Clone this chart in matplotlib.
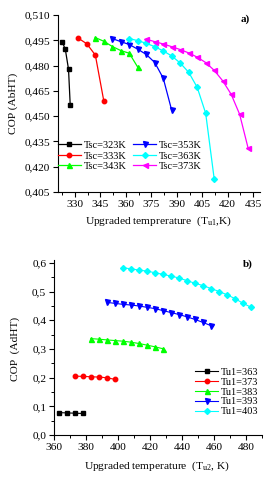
import matplotlib
matplotlib.use("Agg")
import matplotlib.pyplot as plt
from matplotlib.ticker import MultipleLocator, FuncFormatter

plt.rcParams['font.family'] = ['Liberation Serif', 'DejaVu Serif']
plt.rcParams['mathtext.fontset'] = 'custom'
plt.rcParams['mathtext.rm'] = 'Liberation Serif'
plt.rcParams['mathtext.it'] = 'Liberation Serif:italic'

# ---------------- Panel a data ----------------
a_labels = ["Tsc=323K", "Tsc=333K", "Tsc=343K", "Tsc=353K", "Tsc=363K", "Tsc=373K"]
a_x323 = [322.4, 324.3, 326.2, 327.2]
a_y323 = [0.4942, 0.4897, 0.4778, 0.4565]
a_x333 = [332, 337, 342, 347]
a_y333 = [0.4962, 0.4929, 0.4862, 0.4589]
a_x343 = [342, 347, 352, 357, 362, 367]
a_y343 = [0.4966, 0.4944, 0.4913, 0.4889, 0.4873, 0.4790]
a_x353 = [352, 357, 362, 367, 372, 377, 382, 387]
a_y353 = [0.4960, 0.4942, 0.4925, 0.4897, 0.4866, 0.4818, 0.4725, 0.4534]
a_x363 = [362, 367, 372, 377, 382, 387, 392, 397, 402, 407, 412]
a_y363 = [0.4960, 0.4948, 0.4932, 0.4912, 0.4887, 0.4857, 0.4815, 0.4760, 0.4671, 0.4517, 0.4129]
a_x373 = [372, 377, 382, 387, 392, 397, 402, 407, 412, 417, 422, 427, 432]
a_y373 = [0.4956, 0.4942, 0.4928, 0.4912, 0.4895, 0.4875, 0.4850, 0.4818, 0.4772, 0.4710, 0.4630, 0.4511, 0.4310]

# ---------------- Panel b data ----------------
b_labels = ["Tu1=363", "Tu1=373", "Tu1=383", "Tu1=393", "Tu1=403"]
b_x363 = [363, 368, 373, 378]
b_y363 = [0.078, 0.077, 0.076, 0.075]
b_x373 = [373, 378, 383, 388, 393, 398]
b_y373 = [0.2053, 0.2042, 0.2031, 0.2019, 0.1996, 0.1939]
b_x383 = [383, 388, 393, 398, 403, 408, 413, 418, 423, 428]
b_y383 = [0.336, 0.334, 0.3315, 0.3292, 0.327, 0.3235, 0.319, 0.3132, 0.3074, 0.3006]
b_x393 = [393, 398, 403, 408, 413, 418, 423, 428, 433, 438, 443, 448, 453, 458]
b_y393 = [0.4623, 0.4589, 0.4554, 0.4531, 0.4497, 0.4451, 0.4405, 0.4336, 0.4268,
          0.4199, 0.4118, 0.4027, 0.3923, 0.3809]
b_x403 = [403, 408, 413, 418, 423, 428, 433, 438, 443, 448, 453, 458, 463, 468, 473, 478, 483]
b_y403 = [0.5828, 0.5794, 0.5748, 0.5713, 0.5656, 0.5598, 0.5541, 0.5472, 0.5380,
          0.5288, 0.5208, 0.5105, 0.5002, 0.4887, 0.4750, 0.4589, 0.4451]

colors = ['#000000', '#ff0000', '#00ff00', '#0000ff', '#00ffff', '#ff00ff']
markers_a = ['s', 'o', '^', 'v', 'D', '<']
msizes = [3.0, 3.2, 3.6, 3.6, 3.0, 3.6]

W, H = 275, 480
fig = plt.figure(figsize=(W / 100, H / 100), dpi=100)

def comma_fmt(dec):
    return FuncFormatter(lambda v, p: (f"{v:.{dec}f}").replace('.', ','))

def style_axes(ax):
    for s in ['top', 'right']:
        ax.spines[s].set_visible(False)
    for s in ['left', 'bottom']:
        ax.spines[s].set_linewidth(0.8)
    ax.tick_params(which='major', direction='out', length=3.5, width=0.8, labelsize=8.2, pad=2)
    ax.tick_params(which='minor', direction='out', length=2, width=0.7)

# ---------- Panel a ----------
axa = fig.add_axes([58 / W, 1 - 192 / H, 202 / W, 177 / H])
style_axes(axa)
series_a = [(a_x323, a_y323), (a_x333, a_y333), (a_x343, a_y343),
            (a_x353, a_y353), (a_x363, a_y363), (a_x373, a_y373)]
for i, (xs, ys) in enumerate(series_a):
    axa.plot(xs, ys, color=colors[i], marker=markers_a[i], markersize=msizes[i],
             linewidth=0.9, label=a_labels[i])
axa.set_xlim(320, 439)
axa.set_ylim(0.405, 0.510)
axa.xaxis.set_minor_locator(MultipleLocator(7.5))
axa.yaxis.set_major_locator(MultipleLocator(0.015))
axa.xaxis.set_major_formatter(FuncFormatter(lambda v, p: f"{v:.0f}"))
axa.yaxis.set_major_formatter(comma_fmt(3))
axa.set_xticks([330, 345, 360, 375, 390, 405, 420, 435])
axa.set_ylabel("COP (AbHT)", fontsize=8.2)
axa.set_xlabel(r"Upgraded temprerature  (T$_{\mathregular{u1}}$,K)", fontsize=8.2)
axa.xaxis.label.set_va('center')
axa.yaxis.label.set_va('center')
axa.xaxis.set_label_coords(0.495, -0.168)
axa.yaxis.set_label_coords(-0.223, 0.5)
axa.text(0.926, 0.976, "a)", transform=axa.transAxes, fontsize=8,
         fontweight='bold', ha='center', va='center')
axa.legend(loc='upper left', bbox_to_anchor=(0.0, 0.29), ncol=2, frameon=False,
           fontsize=7.5, handlelength=2.2, handletextpad=0.3, columnspacing=0.6,
           labelspacing=0.12, borderpad=0, borderaxespad=0)

# ---------- Panel b ----------
axb = fig.add_axes([54 / W, 1 - 435 / H, 208.4 / W, 175 / H])
style_axes(axb)
series_b = [(b_x363, b_y363), (b_x373, b_y373), (b_x383, b_y383),
            (b_x393, b_y393), (b_x403, b_y403)]
for i, (xs, ys) in enumerate(series_b):
    axb.plot(xs, ys, color=colors[i], marker=markers_a[i], markersize=msizes[i],
             linewidth=0.8, label=b_labels[i])
axb.set_xlim(360, 490)
axb.set_ylim(0.0, 0.61)
axb.xaxis.set_major_locator(MultipleLocator(20))
axb.xaxis.set_minor_locator(MultipleLocator(10))
axb.yaxis.set_major_locator(MultipleLocator(0.1))
axb.yaxis.set_minor_locator(MultipleLocator(0.05))
axb.xaxis.set_major_formatter(FuncFormatter(lambda v, p: f"{v:.0f}"))
axb.yaxis.set_major_formatter(comma_fmt(1))
axb.set_ylabel("COP  (AdHT)", fontsize=8.2)
axb.set_xlabel(r"Upgraded temperature  (T$_{\mathregular{u2}}$, K)", fontsize=8.2)
axb.xaxis.label.set_va('center')
axb.yaxis.label.set_va('center')
axb.xaxis.set_label_coords(0.493, -0.181)
axb.yaxis.set_label_coords(-0.187, 0.49)
axb.text(0.932, 0.977, "b)", transform=axb.transAxes, fontsize=8,
         fontweight='bold', ha='center', va='center')
axb.legend(loc='upper left', bbox_to_anchor=(0.677, 0.385), ncol=1, frameon=False,
           fontsize=7.5, handlelength=2.2, handletextpad=0.3,
           labelspacing=0.05, borderpad=0, borderaxespad=0)

fig.savefig("out.png", dpi=100)
